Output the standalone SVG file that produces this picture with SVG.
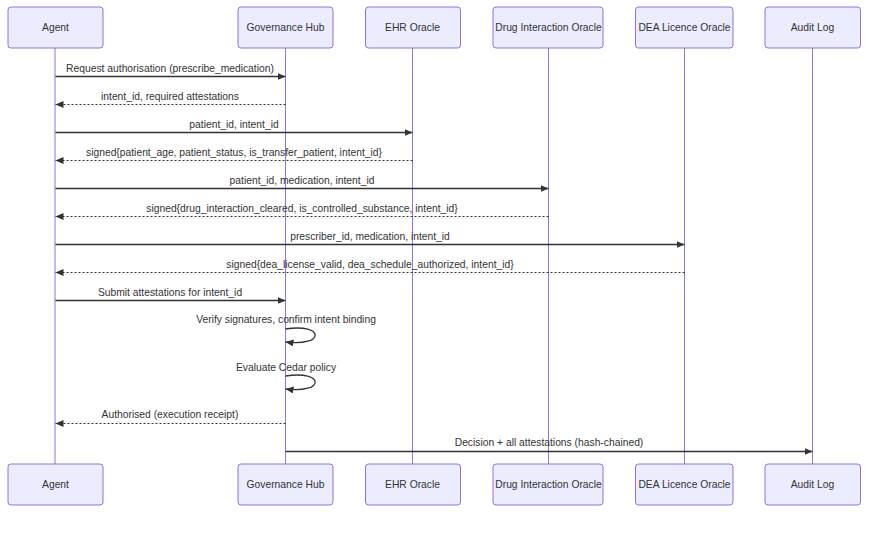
<svg xmlns="http://www.w3.org/2000/svg" width="891" height="540" viewBox="0 0 891 540">
<style>
  .actor{fill:#ECECFF;stroke:#9370DB;stroke-width:1}
  .lifeline{stroke:#9370DB;stroke-width:1}
  .atext{font-family:"Liberation Sans",Arial,sans-serif;font-size:10.3px;fill:#333;text-anchor:middle;dominant-baseline:central}
  .mtext{font-family:"Liberation Sans",Arial,sans-serif;font-size:10.3px;fill:#333;text-anchor:middle}
  .msg{stroke:#333;stroke-width:1.3;fill:none}
  .dash{stroke-width:1;stroke-dasharray:2,2}
</style>
<defs>
  <marker id="arrow" viewBox="0 0 10 10" refX="10" refY="5" markerWidth="8" markerHeight="7" markerUnits="userSpaceOnUse" orient="auto" preserveAspectRatio="none">
    <path d="M0,0 L10,5 L0,10 z" fill="#333"/>
  </marker>
</defs>
<rect width="891" height="540" fill="#fff"/>
<g id="lifelines">
  <line class="lifeline" x1="55" y1="48" x2="55" y2="464"/>
  <line class="lifeline" x1="285.5" y1="48" x2="285.5" y2="464"/>
  <line class="lifeline" x1="412.5" y1="48" x2="412.5" y2="464"/>
  <line class="lifeline" x1="548.5" y1="48" x2="548.5" y2="464"/>
  <line class="lifeline" x1="684.5" y1="48" x2="684.5" y2="464"/>
  <line class="lifeline" x1="812.5" y1="48" x2="812.5" y2="464"/>
</g>
<g id="agent">
  <rect class="actor" x="8" y="7" width="95" height="41" rx="3"/>
  <text class="atext" x="55.5" y="27.5">Agent</text>
  <rect class="actor" x="8" y="464" width="95" height="41" rx="3"/>
  <text class="atext" x="55.5" y="484.5">Agent</text>
</g>
<g id="governance-hub">
  <rect class="actor" x="238" y="7" width="95" height="41" rx="3"/>
  <text class="atext" x="285.5" y="27.5">Governance Hub</text>
  <rect class="actor" x="238" y="464" width="95" height="41" rx="3"/>
  <text class="atext" x="285.5" y="484.5">Governance Hub</text>
</g>
<g id="ehr-oracle">
  <rect class="actor" x="365.5" y="7" width="95" height="41" rx="3"/>
  <text class="atext" x="412.5" y="27.5">EHR Oracle</text>
  <rect class="actor" x="365.5" y="464" width="95" height="41" rx="3"/>
  <text class="atext" x="412.5" y="484.5">EHR Oracle</text>
</g>
<g id="drug-interaction-oracle">
  <rect class="actor" x="493" y="7" width="110" height="41" rx="3"/>
  <text class="atext" x="548.5" y="27.5">Drug Interaction Oracle</text>
  <rect class="actor" x="493" y="464" width="110" height="41" rx="3"/>
  <text class="atext" x="548.5" y="484.5">Drug Interaction Oracle</text>
</g>
<g id="dea-licence-oracle">
  <rect class="actor" x="635.5" y="7" width="97.5" height="41" rx="3"/>
  <text class="atext" x="684.5" y="27.5">DEA Licence Oracle</text>
  <rect class="actor" x="635.5" y="464" width="97.5" height="41" rx="3"/>
  <text class="atext" x="684.5" y="484.5">DEA Licence Oracle</text>
</g>
<g id="audit-log">
  <rect class="actor" x="765" y="7" width="95.5" height="41" rx="3"/>
  <text class="atext" x="812.5" y="27.5">Audit Log</text>
  <rect class="actor" x="765" y="464" width="95.5" height="41" rx="3"/>
  <text class="atext" x="812.5" y="484.5">Audit Log</text>
</g>
<g id="connectors">
  <line class="msg" x1="55.5" y1="76.5" x2="285.5" y2="76.5" marker-end="url(#arrow)"/>
  <text class="mtext" x="170" y="71.5">Request authorisation (prescribe_medication)</text>

  <line class="msg dash" x1="285.5" y1="104.5" x2="55.5" y2="104.5" marker-end="url(#arrow)"/>
  <text class="mtext" x="170" y="99.5">intent_id, required attestations</text>

  <line class="msg" x1="55.5" y1="132.5" x2="412.5" y2="132.5" marker-end="url(#arrow)"/>
  <text class="mtext" x="234" y="127.5">patient_id, intent_id</text>

  <line class="msg dash" x1="412.5" y1="160.5" x2="55.5" y2="160.5" marker-end="url(#arrow)"/>
  <text class="mtext" x="234" y="155.5">signed{patient_age, patient_status, is_transfer_patient, intent_id}</text>

  <line class="msg" x1="55.5" y1="188.5" x2="548.5" y2="188.5" marker-end="url(#arrow)"/>
  <text class="mtext" x="302" y="183.5">patient_id, medication, intent_id</text>

  <line class="msg dash" x1="548.5" y1="216.5" x2="55.5" y2="216.5" marker-end="url(#arrow)"/>
  <text class="mtext" x="302" y="211.5">signed{drug_interaction_cleared, is_controlled_substance, intent_id}</text>

  <line class="msg" x1="55.5" y1="244.5" x2="684.5" y2="244.5" marker-end="url(#arrow)"/>
  <text class="mtext" x="370" y="239.5">prescriber_id, medication, intent_id</text>

  <line class="msg dash" x1="684.5" y1="272.5" x2="55.5" y2="272.5" marker-end="url(#arrow)"/>
  <text class="mtext" x="370" y="267.5">signed{dea_license_valid, dea_schedule_authorized, intent_id}</text>

  <line class="msg" x1="55.5" y1="300.5" x2="285.5" y2="300.5" marker-end="url(#arrow)"/>
  <text class="mtext" x="170" y="295.5">Submit attestations for intent_id</text>

  <path class="msg" d="M285.5,329 C325,323 325,347 285.5,342" marker-end="url(#arrow)"/>
  <text class="mtext" x="286" y="322.5">Verify signatures, confirm intent binding</text>

  <path class="msg" d="M285.5,376 C325,370 325,394 285.5,389" marker-end="url(#arrow)"/>
  <text class="mtext" x="286" y="370.5">Evaluate Cedar policy</text>

  <line class="msg dash" x1="285.5" y1="423.5" x2="55.5" y2="423.5" marker-end="url(#arrow)"/>
  <text class="mtext" x="170" y="417.5">Authorised (execution receipt)</text>

  <line class="msg" x1="285.5" y1="451.5" x2="812.5" y2="451.5" marker-end="url(#arrow)"/>
  <text class="mtext" x="549" y="445.5">Decision + all attestations (hash-chained)</text>
</g>
</svg>
